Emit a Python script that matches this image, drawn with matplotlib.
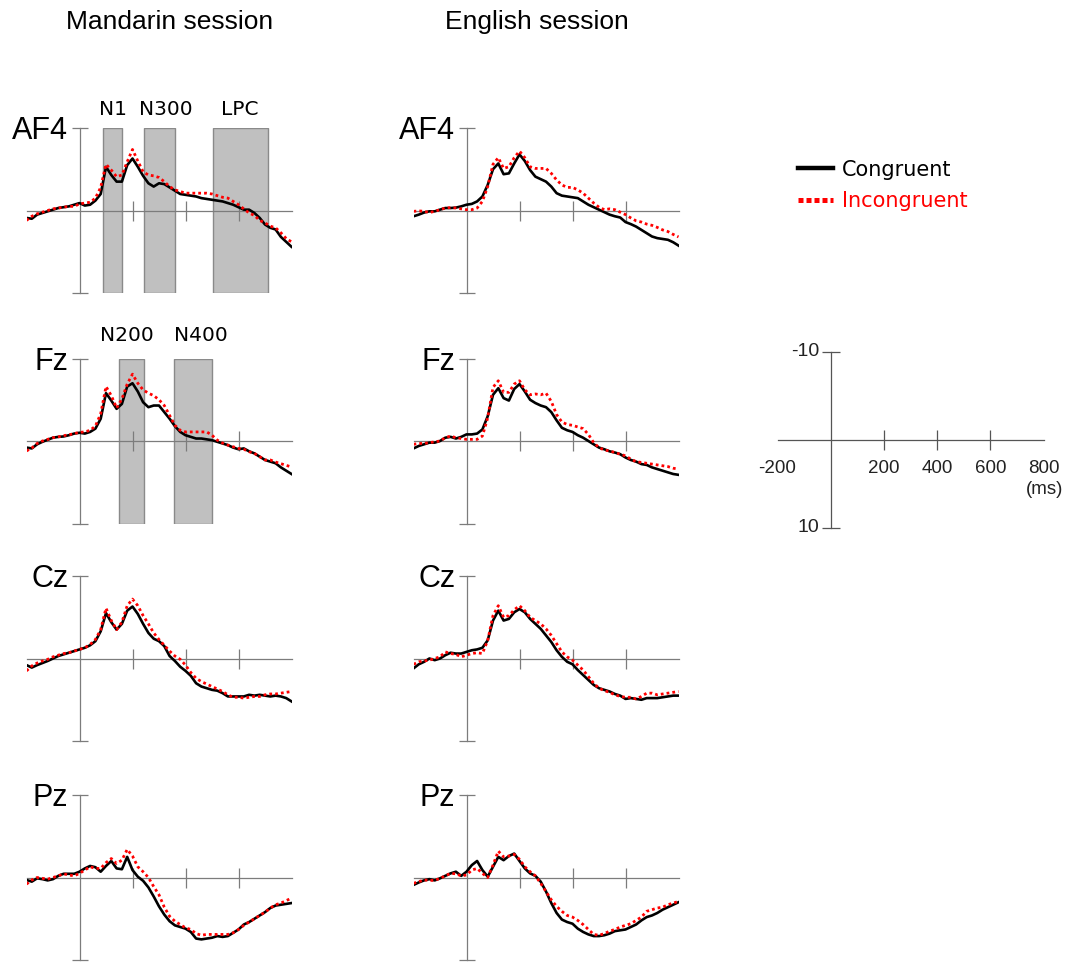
import numpy as np
import matplotlib.pyplot as plt
from matplotlib.lines import Line2D

# sampling grid (ms) shared by all waveforms
times = np.arange(-200, 801, 20)

# amplitudes in microvolts (negative plotted up)
man_af4_con = [0.9, 1.0, 0.5, 0.3, 0.1, -0.1, -0.3, -0.4, -0.5, -0.7,
               -0.9, -0.6, -0.7, -1.2, -2.0, -5.3, -4.3, -3.5, -3.5, -5.5,
               -6.3, -5.3, -4.2, -3.3, -2.9, -3.3, -3.2, -2.8, -2.4, -2.0,
               -1.9, -1.8, -1.7, -1.5, -1.4, -1.3, -1.2, -1.1, -0.9, -0.7,
               -0.4, -0.1, -0.1, 0.3, 0.9, 1.7, 2.1, 2.3, 3.2, 3.8, 4.4]
man_af4_inc = [1.2, 0.7, 0.4, 0.2, 0.0, -0.2, -0.3, -0.4, -0.5, -0.5,
               -0.8, -0.9, -1.0, -1.5, -2.8, -5.6, -4.9, -4.1, -4.3, -5.9,
               -7.4, -6.0, -4.7, -4.3, -4.2, -4.0, -3.5, -2.9, -2.5, -2.3,
               -2.1, -2.1, -2.1, -2.1, -2.1, -2.0, -1.8, -1.6, -1.5, -1.1,
               -0.7, -0.2, 0.3, 0.6, 1.2, 1.5, 1.9, 2.1, 2.7, 3.4, 3.8]
eng_af4_con = [0.7, 0.5, 0.25, 0.1, 0.1, -0.1, -0.3, -0.3, -0.35, -0.5,
               -0.7, -0.8, -1.1, -1.7, -3.1, -5.0, -5.7, -4.4, -4.5, -5.7,
               -6.8, -6.0, -4.9, -4.1, -3.8, -3.5, -2.9, -2.1, -1.8, -1.7,
               -1.6, -1.5, -1.1, -0.7, -0.4, -0.1, 0.2, 0.5, 0.7, 0.85,
               1.4, 1.65, 1.95, 2.35, 2.75, 3.15, 3.35, 3.45, 3.55, 3.85, 4.25]
eng_af4_inc = [0.1, 0.05, 0.1, 0.25, 0.1, -0.1, -0.3, -0.35, -0.3, -0.2,
               -0.1, -0.1, -0.3, -1.1, -2.9, -5.6, -6.4, -5.1, -5.3, -6.4,
               -7.2, -6.4, -5.3, -5.1, -5.1, -5.1, -4.5, -3.7, -3.1, -2.8,
               -2.8, -2.5, -2.1, -1.5, -0.9, -0.4, -0.1, -0.2, -0.1, 0.2,
               0.5, 0.9, 1.25, 1.4, 1.65, 1.8, 2.05, 2.35, 2.55, 2.9, 3.2]

man_fz_con = [0.8, 0.9, 0.4, 0.1, -0.15, -0.4, -0.5, -0.55, -0.7, -0.9,
              -1.0, -0.9, -1.1, -1.5, -2.7, -5.8, -4.9, -3.9, -4.5, -6.6,
              -7.0, -6.0, -4.7, -4.1, -4.3, -4.3, -3.5, -2.7, -1.8, -1.1,
              -0.7, -0.5, -0.3, -0.3, -0.2, -0.1, 0.1, 0.3, 0.5, 0.8,
              1.0, 0.9, 1.25, 1.5, 1.9, 2.3, 2.5, 2.7, 3.2, 3.6, 4.0]
man_fz_inc = [1.2, 0.85, 0.3, 0.0, -0.2, -0.4, -0.5, -0.65, -0.75, -0.9,
              -1.05, -1.1, -1.3, -1.8, -3.3, -6.6, -5.5, -4.0, -5.1, -6.9,
              -8.1, -7.0, -6.2, -5.8, -5.5, -5.0, -4.3, -3.1, -1.9, -1.3,
              -1.1, -1.1, -1.1, -1.1, -1.1, -0.7, -0.1, 0.25, 0.5, 0.7,
              0.9, 1.0, 1.3, 1.5, 1.9, 2.3, 2.3, 2.55, 2.75, 2.95, 3.15]
eng_fz_con = [0.9, 0.6, 0.4, 0.2, 0.2, 0.0, -0.4, -0.5, -0.3, -0.5,
              -0.8, -0.8, -0.9, -1.4, -3.0, -5.6, -6.4, -5.2, -4.9, -6.3,
              -6.9, -6.0, -5.0, -4.6, -4.3, -4.1, -3.5, -2.5, -1.6, -1.3,
              -1.1, -0.7, -0.4, 0.0, 0.4, 0.8, 1.0, 1.25, 1.4, 1.6,
              2.0, 2.3, 2.5, 2.8, 2.9, 3.2, 3.4, 3.6, 3.8, 4.0, 4.1]
eng_fz_inc = [0.4, 0.3, 0.3, 0.2, 0.1, 0.0, -0.4, -0.6, -0.4, -0.3,
              -0.2, -0.2, -0.2, -0.6, -2.8, -6.5, -7.3, -5.9, -5.9, -6.9,
              -7.3, -6.2, -5.6, -5.7, -5.6, -5.8, -4.8, -3.2, -2.3, -2.0,
              -1.9, -1.7, -1.5, -0.8, 0.2, 0.8, 1.1, 1.2, 1.4, 1.6,
              1.8, 2.2, 2.5, 2.6, 2.7, 2.8, 2.9, 3.0, 3.1, 3.3, 3.4]

man_cz_con = [0.8, 1.1, 0.8, 0.55, 0.3, 0.0, -0.3, -0.5, -0.7, -0.9,
              -1.1, -1.3, -1.6, -2.1, -3.3, -5.5, -4.4, -3.5, -4.2, -5.8,
              -6.3, -5.4, -4.2, -3.1, -2.4, -2.1, -1.5, -0.3, 0.3, 1.0,
              1.5, 2.1, 3.0, 3.4, 3.6, 3.8, 3.9, 4.2, 4.6, 4.6,
              4.6, 4.6, 4.4, 4.5, 4.4, 4.5, 4.6, 4.5, 4.6, 4.8, 5.2]
man_cz_inc = [1.5, 0.9, 0.55, 0.3, 0.1, -0.2, -0.4, -0.6, -0.7, -0.9,
              -1.1, -1.3, -1.7, -2.3, -3.5, -6.1, -4.6, -3.5, -4.4, -6.4,
              -7.2, -6.4, -5.2, -4.2, -3.1, -2.3, -1.6, -0.9, -0.3, 0.1,
              0.8, 1.7, 2.4, 2.8, 3.1, 3.4, 3.7, 4.0, 4.4, 4.7,
              4.7, 4.8, 4.7, 4.6, 4.6, 4.4, 4.3, 4.3, 4.2, 4.1, 4.0]
eng_cz_con = [1.2, 0.7, 0.4, 0.0, 0.2, 0.0, -0.4, -0.7, -0.6, -0.6,
              -0.8, -1.0, -1.1, -1.3, -2.2, -4.6, -5.8, -4.6, -4.8, -5.6,
              -6.0, -5.6, -4.8, -4.2, -3.6, -2.8, -2.0, -1.0, -0.2, 0.4,
              0.7, 1.4, 2.0, 2.6, 3.2, 3.6, 3.8, 4.0, 4.3, 4.5,
              4.9, 4.8, 4.9, 5.0, 4.8, 4.8, 4.8, 4.7, 4.6, 4.5, 4.5]
eng_cz_inc = [0.7, 0.4, 0.3, 0.2, 0.0, -0.2, -0.8, -0.6, -0.5, -0.2,
              -0.4, -0.6, -0.7, -0.6, -2.2, -5.2, -6.4, -5.0, -5.2, -5.9,
              -6.4, -5.8, -5.0, -4.6, -4.2, -3.6, -2.8, -1.8, -0.8, -0.2,
              0.2, 0.8, 1.4, 2.2, 3.0, 3.6, 3.9, 4.1, 4.4, 4.6,
              4.7, 4.7, 4.9, 4.6, 4.2, 4.2, 4.4, 4.3, 4.2, 4.1, 4.0]

man_pz_con = [0.3, 0.5, 0.1, 0.2, 0.35, 0.2, -0.2, -0.45, -0.45, -0.45,
              -0.7, -1.1, -1.4, -1.25, -0.7, -1.4, -2.0, -1.1, -1.0, -2.5,
              -0.9, -0.1, 0.4, 1.2, 2.3, 3.5, 4.5, 5.3, 5.8, 6.0,
              6.2, 6.6, 7.4, 7.5, 7.4, 7.3, 7.1, 7.2, 7.1, 6.7,
              6.3, 5.7, 5.4, 5.0, 4.6, 4.2, 3.7, 3.4, 3.3, 3.2, 3.1]
man_pz_inc = [0.8, 0.3, 0.0, 0.1, 0.2, 0.0, -0.2, -0.45, -0.3, -0.2,
              -0.5, -0.9, -1.3, -1.1, -1.1, -1.8, -2.3, -1.7, -2.1, -3.4,
              -2.6, -1.3, -0.7, 0.0, 1.1, 2.1, 3.6, 4.7, 5.3, 5.7,
              6.1, 6.3, 6.8, 7.0, 6.9, 6.9, 6.9, 6.9, 6.9, 6.7,
              6.3, 5.8, 5.4, 5.0, 4.6, 4.2, 3.7, 3.3, 3.1, 2.8, 2.5]
eng_pz_con = [0.9, 0.6, 0.35, 0.2, 0.35, 0.1, -0.2, -0.5, -0.7, -0.2,
              -0.7, -1.5, -2.0, -0.9, -0.1, -1.3, -2.5, -2.1, -2.6, -2.9,
              -2.0, -1.1, -0.5, -0.2, 0.5, 1.7, 3.1, 4.3, 5.1, 5.4,
              5.6, 6.2, 6.6, 6.9, 7.1, 7.1, 7.0, 6.8, 6.5, 6.4,
              6.3, 6.0, 5.7, 5.2, 4.8, 4.6, 4.3, 3.9, 3.6, 3.3, 3.0]
eng_pz_inc = [0.7, 0.5, 0.3, 0.35, 0.35, 0.1, -0.2, -0.5, -0.45, -0.2,
              -0.3, -0.9, -1.1, -0.5, 0.0, -1.5, -3.2, -2.5, -2.6, -2.8,
              -2.2, -1.3, -0.7, -0.2, 0.7, 1.7, 2.7, 3.5, 4.1, 4.6,
              4.8, 5.2, 5.7, 6.3, 6.9, 7.0, 6.8, 6.5, 6.3, 6.0,
              5.8, 5.6, 5.2, 4.8, 4.1, 3.9, 3.7, 3.6, 3.3, 3.1, 2.9]

# analysis windows (ms)
af4_win_names = ["N1", "N300", "LPC"]
af4_win_start = [90, 245, 505]
af4_win_end = [160, 360, 710]
fz_win_names = ["N200", "N400"]
fz_win_start = [150, 355]
fz_win_end = [245, 500]

scale_xlabels = [-200, 200, 400, 600, 800]

W, H = 1074, 964
fig = plt.figure(figsize=(W / 100, H / 100), dpi=100)

AXIS_GRAY = "#7c7c7c"
ARIAL = "Liberation Sans"


def add_panel(left_px, top_px, width_px=265, height_px=165, color=AXIS_GRAY, ylen=12):
    ax = fig.add_axes([left_px / W, 1 - (top_px + height_px) / H, width_px / W, height_px / H])
    ax.set_xlim(-200, 800)
    ax.set_ylim(10, -10)
    ax.patch.set_visible(False)
    for s in ("top", "right"):
        ax.spines[s].set_visible(False)
    ax.spines["left"].set_position(("data", 0))
    ax.spines["bottom"].set_position(("data", 0))
    ax.spines["left"].set_bounds(-10, 10)
    ax.spines["bottom"].set_bounds(-200, 800)
    for s in ("left", "bottom"):
        ax.spines[s].set_color(color)
        ax.spines[s].set_linewidth(0.9)
    ax.set_xticks([200, 400, 600])
    ax.set_yticks([-10, 10])
    ax.tick_params(axis="x", direction="inout", length=15, width=0.9, color=color, labelbottom=False)
    ax.tick_params(axis="y", direction="inout", length=ylen, width=0.9, color=color, labelleft=False)
    return ax


def draw_waves(ax, con, inc, name):
    ax.plot(times, con, color="black", lw=1.9, zorder=3)
    ax.plot(times, inc, color="#ff0000", lw=2.0, ls=(0, (1, 1.1)), zorder=4)
    ax.text(-42, -9.6, name, ha="right", va="center", fontsize=22, family=ARIAL)


def draw_windows(ax, starts, ends, names, label_x, label_y):
    for s, e, n, lx in zip(starts, ends, names, label_x):
        ax.axvspan(s, e, facecolor="#c0c0c0", edgecolor="#8a8a8a", lw=1.0, zorder=0.5)
        ax.text(lx, label_y, n, ha="center", va="center", fontsize=14.5,
                family="DejaVu Sans", clip_on=False)


rows = [
    ("AF4", man_af4_con, man_af4_inc, eng_af4_con, eng_af4_inc, 128),
    ("Fz", man_fz_con, man_fz_inc, eng_fz_con, eng_fz_inc, 358.5),
    ("Cz", man_cz_con, man_cz_inc, eng_cz_con, eng_cz_inc, 576),
    ("Pz", man_pz_con, man_pz_inc, eng_pz_con, eng_pz_inc, 795),
]

for name, mcon, minc, econ, einc, top in rows:
    axm = add_panel(26.5, top)
    draw_waves(axm, mcon, minc, name)
    axe = add_panel(413.5, top)
    draw_waves(axe, econ, einc, name)
    if name == "AF4":
        draw_windows(axm, af4_win_start, af4_win_end, af4_win_names, [125, 325, 603], -12.3)
    elif name == "Fz":
        draw_windows(axm, fz_win_start, fz_win_end, fz_win_names, [177, 457], -12.8)

fig.text(170 / W, 1 - 22 / H, "Mandarin session", ha="center", va="center", fontsize=19, family=ARIAL)
fig.text(537 / W, 1 - 22 / H, "English session", ha="center", va="center", fontsize=19, family=ARIAL)

# calibration axis
axs = add_panel(777.5, 352, width_px=266, height_px=176, color="#555555", ylen=13)
for v in scale_xlabels:
    axs.text(v, 3.2, str(v), ha="center", va="center", fontsize=13.5, family=ARIAL, color="#222222")
axs.text(805, 5.6, "(ms)", ha="center", va="center", fontsize=13.5, family=ARIAL, color="#222222")
axs.text(-44, -10, "-10", ha="right", va="center", fontsize=14, family=ARIAL, color="#222222")
axs.text(-44, 10, "10", ha="right", va="center", fontsize=14, family=ARIAL, color="#222222")

handles = [Line2D([], [], color="black", lw=3.2),
           Line2D([], [], color="#ff0000", lw=3.6, ls=(0, (1, 0.6)))]
leg = fig.legend(handles, ["Congruent", "Incongruent"], loc="center left",
                 bbox_to_anchor=(798 / W, 1 - 185.5 / H), frameon=False,
                 prop={"family": "DejaVu Sans", "size": 15}, handlelength=1.7,
                 handletextpad=0.4, labelspacing=0.55, borderpad=0, borderaxespad=0)
leg.get_texts()[1].set_color("#ff0000")

fig.savefig("out.png", dpi=100)
